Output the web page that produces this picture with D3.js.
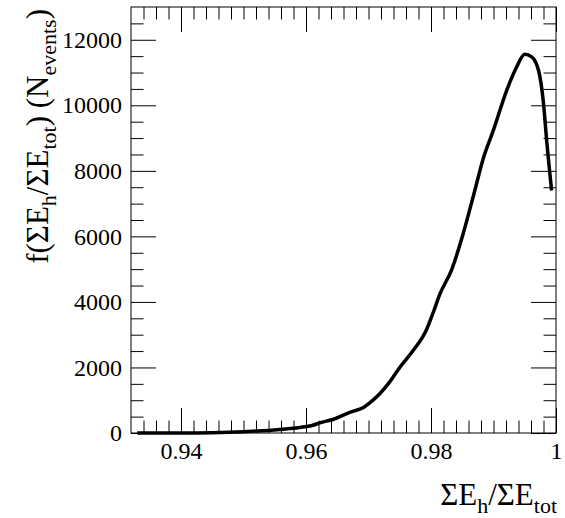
<!DOCTYPE html>
<html>
<head>
<meta charset="utf-8">
<script src="https://cdn.jsdelivr.net/npm/d3@7"></script>
<style>
  body { margin: 0; background: #fff; }
  text { font-family: "Liberation Serif", "Times New Roman", serif; fill: #000; }
</style>
</head>
<body>
<svg width="565" height="518"></svg>
<script>
// data
var ratio = [0.9330, 0.9400, 0.9450, 0.9500, 0.9521, 0.9558, 0.9590, 0.9610, 0.9622, 0.9644,
             0.9670, 0.9692, 0.9702, 0.9718, 0.9734, 0.9750, 0.9772, 0.9792, 0.9804, 0.9814,
             0.9833, 0.9852, 0.9868, 0.9884, 0.9900, 0.9921, 0.9937, 0.9950, 0.9961, 0.9972,
             0.9980, 0.9985, 0.9993];
var nEvents = [0, 0, 10, 40, 60, 110, 170, 230, 310, 420,
               630, 780, 920, 1200, 1560, 2000, 2530, 3120, 3700, 4230,
               4980, 6120, 7250, 8400, 9250, 10450, 11170, 11560, 11480, 11070,
               10060, 8940, 7400];
var xTicks = [0.94, 0.96, 0.98, 1];
var xTickLabels = ["0.94", "0.96", "0.98", "1"];
var yTicks = [0, 2000, 4000, 6000, 8000, 10000, 12000];

// options
var margin = {top: 7, right: 9, bottom: 85, left: 131};
var width = 565, height = 518;

var svg = d3.select('svg');

var xScale = d3.scaleLinear()
    .domain([0.932, 1.0])
    .range([margin.left, width - margin.right]);
var yScale = d3.scaleLinear()
    .domain([0, 13000])
    .range([height - margin.bottom, margin.top]);

var x0 = xScale.range()[0], x1 = xScale.range()[1];
var y0 = yScale.range()[0], y1 = yScale.range()[1];

var xMinor = d3.range(934, 1001, 2).map(function(d){ return d / 1000; })
    .filter(function(d){ return xTicks.indexOf(d) < 0; });
var yMinor = d3.range(500, 13000, 500)
    .filter(function(d){ return yTicks.indexOf(d) < 0; });

function clean(g) {
  g.select('.domain').remove();
  g.selectAll('line').attr('stroke', '#000');
  g.selectAll('text').style('font-size', '24px')
    .style('font-family', '"Liberation Serif", serif').attr('fill', '#000');
}

// bottom axis
svg.append('g')
  .attr('transform', 'translate(0,' + y0 + ')')
  .call(d3.axisBottom(xScale).tickValues(xTicks)
    .tickFormat(function(d, i){ return xTickLabels[i]; })
    .tickSize(-25).tickPadding(9))
  .call(clean);
svg.append('g')
  .attr('transform', 'translate(0,' + y0 + ')')
  .call(d3.axisBottom(xScale).tickValues(xMinor).tickFormat('').tickSize(-12.5))
  .call(clean);
// top axis
svg.append('g')
  .attr('transform', 'translate(0,' + y1 + ')')
  .call(d3.axisTop(xScale).tickValues(xTicks).tickFormat('').tickSize(-25))
  .call(clean);
svg.append('g')
  .attr('transform', 'translate(0,' + y1 + ')')
  .call(d3.axisTop(xScale).tickValues(xMinor).tickFormat('').tickSize(-12.5))
  .call(clean);
// left axis
svg.append('g')
  .attr('transform', 'translate(' + x0 + ',0)')
  .call(d3.axisLeft(yScale).tickValues(yTicks).tickFormat(d3.format('d'))
    .tickSize(-25).tickPadding(9))
  .call(clean);
svg.append('g')
  .attr('transform', 'translate(' + x0 + ',0)')
  .call(d3.axisLeft(yScale).tickValues(yMinor).tickFormat('').tickSize(-12.5))
  .call(clean);
// right axis
svg.append('g')
  .attr('transform', 'translate(' + x1 + ',0)')
  .call(d3.axisRight(yScale).tickValues(yTicks).tickFormat('').tickSize(-25))
  .call(clean);
svg.append('g')
  .attr('transform', 'translate(' + x1 + ',0)')
  .call(d3.axisRight(yScale).tickValues(yMinor).tickFormat('').tickSize(-12.5))
  .call(clean);

// frame
svg.append('rect')
  .attr('x', x0).attr('y', y1)
  .attr('width', x1 - x0).attr('height', y0 - y1)
  .attr('fill', 'none').attr('stroke', '#000').attr('stroke-width', 1);

// curve
var line = d3.line()
  .x(function(d, i){ return xScale(ratio[i]); })
  .y(function(d){ return yScale(d); })
  .curve(d3.curveMonotoneX);

svg.append('path')
  .datum(nEvents)
  .attr('d', line)
  .attr('fill', 'none')
  .attr('stroke', '#000')
  .attr('stroke-width', 3.5)
  .attr('stroke-linejoin', 'round');

// axis titles
var xt = svg.append('text')
  .attr('x', x1 + 1).attr('y', 505)
  .attr('text-anchor', 'end')
  .style('font-size', '31px');
xt.append('tspan').text('ΣE');
xt.append('tspan').attr('dy', 8).style('font-size', '22px').text('h');
xt.append('tspan').attr('dy', -8).text('/ΣE');
xt.append('tspan').attr('dy', 8).style('font-size', '22px').text('tot');

var yt = svg.append('text')
  .attr('transform', 'translate(48,' + (y1 + 2) + ') rotate(-90)')
  .attr('text-anchor', 'end')
  .style('font-size', '31px');
yt.append('tspan').text('f(ΣE');
yt.append('tspan').attr('dy', 8).style('font-size', '22px').text('h');
yt.append('tspan').attr('dy', -8).text('/ΣE');
yt.append('tspan').attr('dy', 8).style('font-size', '22px').text('tot');
yt.append('tspan').attr('dy', -8).text(') (N');
yt.append('tspan').attr('dy', 8).style('font-size', '22px').text('events');
yt.append('tspan').attr('dy', -8).text(')');
</script>
</body>
</html>
